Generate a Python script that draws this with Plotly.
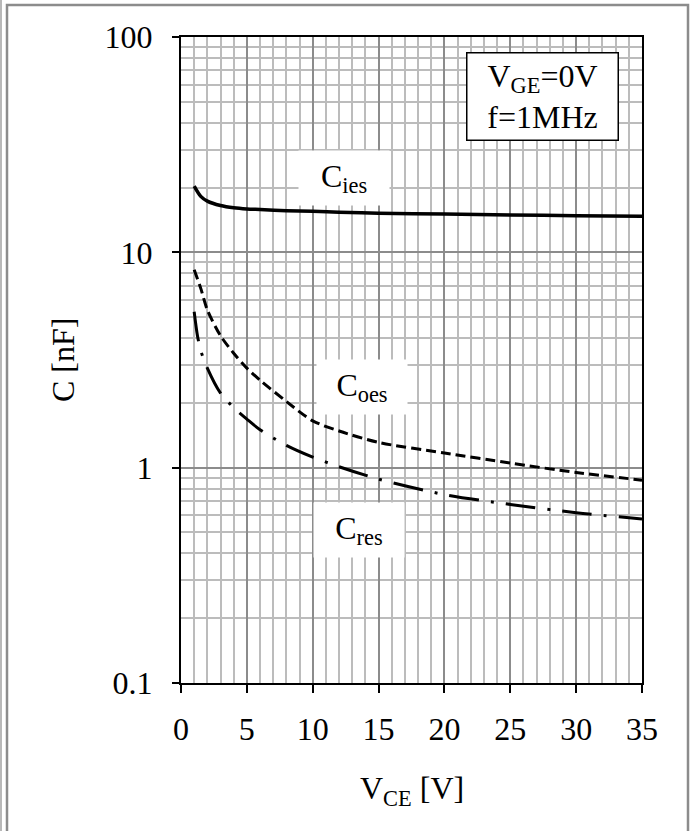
import plotly.graph_objects as go

# ---- data ----
vce_ies = [1, 1.5, 2, 3, 4, 5, 6, 8, 10, 12, 15, 20, 25, 30, 35]
c_ies = [20.3, 18.2, 17.3, 16.5, 16.1, 15.9, 15.8, 15.6, 15.5, 15.35, 15.2, 15.05, 14.9, 14.8, 14.7]

vce_oes = [1, 1.5, 2, 3, 4, 5, 6, 8, 10, 12, 15, 20, 25, 30, 35]
c_oes = [8.3, 6.8, 5.4, 4.1, 3.4, 2.9, 2.55, 2.03, 1.65, 1.48, 1.31, 1.17, 1.05, 0.95, 0.875]

vce_res = [1, 1.25, 1.5, 2, 3, 4, 5, 6, 8, 10, 12, 15, 20, 25, 30, 35]
c_res = [5.3, 4.1, 3.5, 2.9, 2.22, 1.9, 1.68, 1.5, 1.27, 1.12, 1.01, 0.885, 0.75, 0.675, 0.618, 0.578]

x_ticks = [0, 5, 10, 15, 20, 25, 30, 35]
y_ticks = [0.1, 1, 10, 100]
y_ticktext = ["0.1", "1", "10", "100"]
y_minor = [m * d for d in (0.1, 1, 10) for m in range(2, 10)]

FONT = "Liberation Serif"
FS = 32

fig = go.Figure()
fig.add_trace(go.Scatter(x=vce_ies, y=c_ies, mode="lines",
                         line=dict(color="black", width=3.5, shape="spline", smoothing=0.8)))
fig.add_trace(go.Scatter(x=vce_oes, y=c_oes, mode="lines",
                         line=dict(color="black", width=3, dash="10px,5px", shape="spline", smoothing=0.8)))
fig.add_trace(go.Scatter(x=vce_res, y=c_res, mode="lines",
                         line=dict(color="black", width=3, dash="30px,12px,3px,12px", shape="spline", smoothing=0.8)))

fig.update_layout(
    width=694, height=831,
    margin=dict(l=181, r=52, t=37, b=148),
    paper_bgcolor="white", plot_bgcolor="white",
    showlegend=False,
    font=dict(family=FONT, size=FS, color="black"),
)

fig.update_xaxes(
    range=[0, 35], tickvals=x_ticks, ticks="outside", ticklen=8, tickwidth=2, tickcolor="black",
    showline=True, linecolor="black", linewidth=2, mirror=True,
    showgrid=True, gridcolor="#8c8c8c", gridwidth=1.5,
    minor=dict(dtick=1, showgrid=True, gridcolor="#bcbcbc", gridwidth=1.6, ticks=""),
    ticklabelstandoff=9, zeroline=False,
    tickfont=dict(family=FONT, size=FS),
)
fig.update_yaxes(
    type="log", range=[-1, 2], tickvals=y_ticks, ticktext=y_ticktext,
    ticks="outside", ticklen=7, tickwidth=2, tickcolor="black",
    showline=True, linecolor="black", linewidth=2, mirror=True,
    showgrid=True, gridcolor="#8c8c8c", gridwidth=1.5,
    minor=dict(tickvals=y_minor, showgrid=True, gridcolor="#bcbcbc", gridwidth=1.6, ticks=""),
    ticklabelstandoff=13, zeroline=False,
    tickfont=dict(family=FONT, size=FS),
)

def px2paper(px, py):
    return (px - 181) / 461, (683 - py) / 646

anns = []
for txt, (cx, cy) in [("C<sub>ies</sub>", (344, 178)),
                      ("C<sub>oes</sub>", (361.5, 387)),
                      ("C<sub>res</sub>", (359, 530))]:
    x, y = px2paper(cx, cy)
    anns.append(dict(text=txt, x=x, y=y, xref="paper", yref="paper", showarrow=False,
                     xanchor="center", yanchor="middle", width=88, height=52,
                     bgcolor="white", font=dict(family=FONT, size=FS)))

x, y = px2paper(542.5, 96.7)
anns.append(dict(text="V<sub>GE</sub>=0V<br>f=1MHz", x=x, y=y, xref="paper", yref="paper",
                 showarrow=False, xanchor="center", yanchor="middle", width=150, height=86,
                 bgcolor="white", bordercolor="black", borderwidth=1.5, borderpad=0,
                 font=dict(family=FONT, size=FS)))

x, y = px2paper(412, 790)
anns.append(dict(text="V<sub>CE</sub> [V]", x=x, y=y, xref="paper", yref="paper", showarrow=False,
                 xanchor="center", yanchor="middle", font=dict(family=FONT, size=FS)))
x, y = px2paper(63, 360)
anns.append(dict(text="C [nF]", x=x, y=y, xref="paper", yref="paper", showarrow=False,
                 textangle=-90, xanchor="center", yanchor="middle", font=dict(family=FONT, size=FS)))
fig.update_layout(annotations=anns)

# outer frame
fx0, fy1 = px2paper(7, 5)
fx1, fy0 = px2paper(688, 840)
lx, _ = px2paper(1, 0)
fig.add_shape(type="rect", xref="paper", yref="paper", x0=fx0, x1=fx1, y0=fy0, y1=fy1,
              line=dict(color="#8c8c8c", width=2.5), layer="above")
fig.add_shape(type="line", xref="paper", yref="paper", x0=lx, x1=lx, y0=fy0, y1=1.2,
              line=dict(color="#a0a0a0", width=1.5), layer="above")

fig.write_html("out.html")
